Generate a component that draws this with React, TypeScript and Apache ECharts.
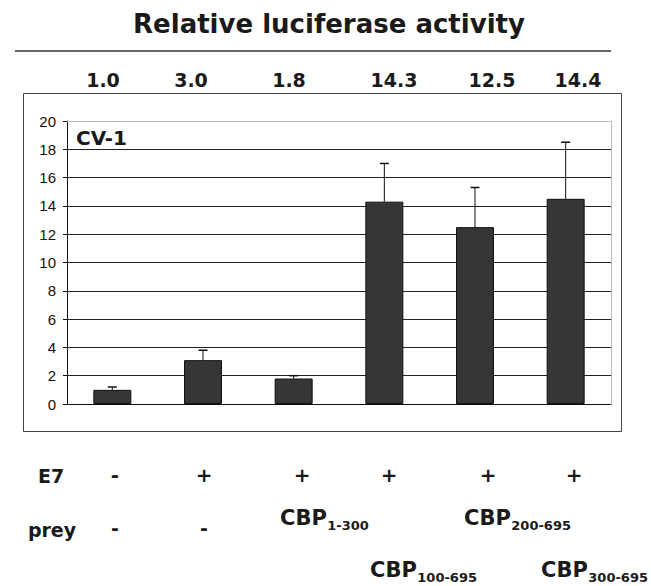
import React, { useEffect, useRef } from "react";
import * as echarts from "echarts";

// ---- data ----
const categories = [
  "E7- / prey-",
  "E7+ / prey-",
  "E7+ / CBP1-300",
  "E7+ / CBP100-695",
  "E7+ / CBP200-695",
  "E7+ / CBP300-695",
];
const means = [1.0, 3.1, 1.8, 14.3, 12.5, 14.5];
const errors = [0.2, 0.7, 0.2, 2.7, 2.8, 4.0];
const valueLabels = ["1.0", "3.0", "1.8", "14.3", "12.5", "14.4"];
const e7Marks = ["-", "+", "+", "+", "+", "+"];
const preyMarks = ["-", "-", "", "", "", ""];
const preyCbp = ["", "", "1-300", "100-695", "200-695", "300-695"];
const yMin = 0;
const yMax = 20;
const yInterval = 2;

// ---- layout (pixel positions of annotations) ----
const valueLabelX = [103, 191, 289, 394, 492, 578];
const markX = [115, 204, 302, 389, 488, 574];
const cbpX = [0, 0, 280, 370, 464, 541];
const cbpY = [0, 0, 518, 570, 518, 570];

const BOLD = "'DejaVu Sans', Verdana, sans-serif";
const INK = "#1a1a1a";
const CBP_SIZE = 21;
const SUB_SIZE = 13;

function measure(text: string, size: number): number {
  const c = document.createElement("canvas").getContext("2d");
  if (!c) return text.length * size * 0.72;
  c.font = `bold ${size}px ${BOLD}`;
  return c.measureText(text).width;
}

export default function App() {
  const ref = useRef<HTMLDivElement>(null);

  useEffect(() => {
    document.body.style.margin = "0";
    if (!ref.current) return;
    const chart = echarts.init(ref.current, undefined, { renderer: "svg" });

    const txt = (
      text: string,
      x: number,
      y: number,
      size: number,
      align = "center",
      extra: any = {}
    ) => ({
      type: "text",
      x,
      y,
      z: 10,
      style: {
        text,
        fontFamily: BOLD,
        fontWeight: "bold",
        fontSize: size,
        fill: INK,
        align,
        verticalAlign: "middle",
        ...extra,
      },
    });

    const graphics: any[] = [
      txt("Relative luciferase activity", 329, 24, 26),
      {
        type: "line",
        shape: { x1: 15, y1: 51, x2: 611, y2: 51 },
        style: { stroke: "#333", lineWidth: 1.5 },
      },
      {
        type: "rect",
        shape: { x: 23.5, y: 93.5, width: 598, height: 338 },
        style: { fill: "none", stroke: "#444", lineWidth: 1 },
        z: -10,
      },
      txt("CV-1", 76, 138, 20, "left"),
      txt("E7", 51, 476, 19),
      txt("prey", 52, 530, 19),
    ];

    valueLabels.forEach((t, i) => {
      graphics.push(txt(t, valueLabelX[i], 80, 19));
    });

    e7Marks.forEach((t, i) => {
      graphics.push(txt(t, markX[i], 475, 20));
    });

    preyMarks.forEach((t, i) => {
      if (!t) return;
      graphics.push(txt(t, markX[i], 528, 19));
    });

    const cbpW = measure("CBP", CBP_SIZE);
    preyCbp.forEach((sub, i) => {
      if (!sub) return;
      graphics.push(txt("CBP", cbpX[i], cbpY[i], CBP_SIZE, "left"));
      graphics.push(txt(sub, cbpX[i] + cbpW + 0.5, cbpY[i] + 7.5, SUB_SIZE, "left"));
    });

    const option: any = {
      animation: false,
      backgroundColor: "#ffffff",
      grid: { left: 67, right: 40, top: 121, bottom: 182 },
      xAxis: [
        {
          type: "category",
          data: categories,
          position: "bottom",
          axisLine: { show: true, onZero: true, lineStyle: { color: "#111", width: 1 } },
          axisTick: { show: false },
          axisLabel: { show: false },
          splitLine: { show: false },
        },
        {
          type: "category",
          data: categories,
          position: "top",
          axisLine: {
            show: true,
            onZero: false,
            lineStyle: { color: "#aaa", width: 1, type: "dotted" },
          },
          axisTick: { show: false },
          axisLabel: { show: false },
          splitLine: { show: false },
        },
      ],
      yAxis: [
        {
          type: "value",
          min: yMin,
          max: yMax,
          interval: yInterval,
          position: "left",
          axisLine: { show: true, onZero: false, lineStyle: { color: "#111", width: 1 } },
          axisTick: {
            show: true,
            inside: false,
            length: 4,
            lineStyle: { color: "#111" },
          },
          axisLabel: {
            show: true,
            margin: 11,
            color: "#111",
            fontFamily: "'Liberation Sans', Arial, sans-serif",
            fontSize: 15,
          },
          splitLine: {
            show: true,
            showMinLine: false,
            showMaxLine: false,
            lineStyle: { color: "#222", width: 1 },
          },
        },
        {
          type: "value",
          min: yMin,
          max: yMax,
          interval: yInterval,
          position: "right",
          axisLine: {
            show: true,
            onZero: false,
            lineStyle: { color: "#aaa", width: 1, type: "dotted" },
          },
          axisTick: { show: false },
          axisLabel: { show: false },
          splitLine: { show: false },
        },
      ],
      series: [
        {
          type: "bar",
          xAxisIndex: 0,
          yAxisIndex: 0,
          data: means,
          barWidth: 38,
          itemStyle: { color: "#363636", borderColor: "#111", borderWidth: 1 },
          z: 3,
        },
        {
          type: "custom",
          xAxisIndex: 0,
          yAxisIndex: 0,
          data: means.map((m, i) => [i, m, errors[i]]),
          encode: { x: 0, y: 1 },
          z: 4,
          renderItem: (params: any, api: any) => {
            const idx = api.value(0);
            const m = api.value(1);
            const e = api.value(2);
            const p0 = api.coord([idx, m]);
            const p1 = api.coord([idx, m + e]);
            const cap = 4.5;
            return {
              type: "group",
              children: [
                {
                  type: "line",
                  shape: { x1: p0[0], y1: p0[1], x2: p1[0], y2: p1[1] },
                  style: { stroke: "#111", lineWidth: 1 },
                },
                {
                  type: "line",
                  shape: {
                    x1: p1[0] - cap,
                    y1: p1[1],
                    x2: p1[0] + cap,
                    y2: p1[1],
                  },
                  style: { stroke: "#111", lineWidth: 1.5 },
                },
              ],
            };
          },
        },
      ],
      graphic: graphics,
    };

    chart.setOption(option);
    return () => chart.dispose();
  }, []);

  return <div ref={ref} style={{ width: 651, height: 586 }} />;
}
